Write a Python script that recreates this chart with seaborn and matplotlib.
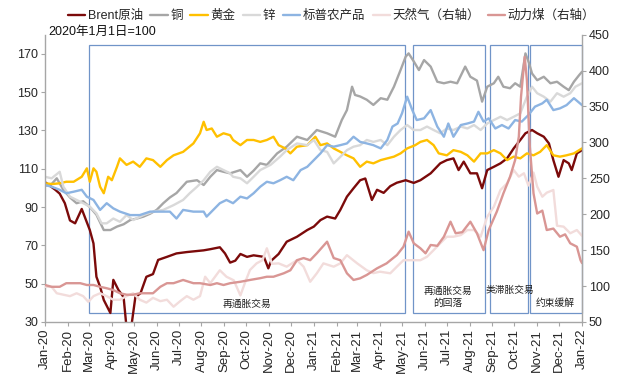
import numpy as np
import pandas as pd
import matplotlib
matplotlib.use("Agg")
import matplotlib.pyplot as plt
import matplotlib.dates as mdates
from matplotlib.patches import Rectangle
from matplotlib.lines import Line2D
import seaborn as sns

# ---------------- data (day offset from 2020-01-01, index value) ----------------
brent = [(0,103),(7,101),(14,99),(20,97),(27,92),(34,83),(41,81.5),(50,89),(54,85),(61,78),(66,71),
         (70,53.6),(75,48.4),(80,41.5),(89,34.7),(93,52),(100,46.7),(107,43),(111,27),(118,29),(123,43),
         (130,45),(138,53.6),(147,55),(154,62.4),(166,64),(179,65.8),(193,66.5),(216,67.4),(225,68),
         (238,69),(245,65.8),(252,61),(259,62),(266,65.5),(275,64),(284,64.8),(298,64),(304,58),(308,62),
         (318,65.5),(329,71.9),(343,74.5),(357,78),(366,79.8),(375,83.2),(384,85),(395,84),(402,88.5),
         (411,95.4),(420,99.8),(429,104),(436,104.9),(445,93.7),(452,99),(461,97.4),(470,100.9),
         (479,102.7),(491,104),(502,102.6),(511,104),(525,107.6),(538,112.8),(547,114.5),(556,115.4),
         (563,109.3),(570,113.7),(579,107.6),(588,107.6),(595,99.8),(602,109.3),(611,111),(620,112.8),
         (629,115.4),(638,120.6),(647,125),(654,128.5),(663,130.2),(670,128.5),(679,126.7),(686,123.2),
         (692,114.5),(699,105.8),(706,114.5),(713,112.8),(717,109.3),(724,118),(731,119.7)]

copper = [(0,101),(9,102),(16,105),(25,99),(34,95),(43,92),(52,93),(61,90),(70,86),(80,78),(89,78),
          (98,79.8),(107,81),(116,83.2),(125,84),(134,85),(143,86.5),(152,88.5),(161,92),(170,95),
          (179,97.3),(193,103.2),(207,104),(216,101.5),(225,105.8),(234,109.3),(243,108.4),(252,107.6),
          (266,109.3),(275,105.8),(284,109),(293,112.8),(302,112),(316,118),(329,121.5),(343,126.7),
          (357,125),(370,130.2),(384,128.5),(395,126.7),(404,135.4),(411,140.6),(418,152.8),(422,148.5),
          (429,147.7),(438,146),(447,143.3),(457,146.8),(466,146),(475,152.8),(484,161.5),(491,168.5),
          (495,170.2),(502,166),(509,161.5),(516,166.7),(525,163.3),(534,155.4),(543,154.6),(552,155.4),
          (561,154.6),(572,163.3),(579,158),(588,156),(595,145),(602,152.8),(611,154.6),(617,158),
          (624,152.8),(633,152),(640,154.6),(647,152.8),(654,170.2),(659,165),(663,159.7),(670,156.2),
          (679,158),(688,154.6),(697,155.4),(706,152.8),(713,151),(720,155.4),(727,158.8),(731,160.6)]

gold = [(0,102.4),(10,102),(20,102.4),(29,103.2),(39,103.2),(50,105.8),(57,110.2),(61,103.2),(66,110.2),
        (70,108.4),(75,100.6),(80,97.2),(86,105.8),(91,104),(98,111),(102,115.4),(111,112),(120,113.7),
        (129,111),(138,115.4),(147,114.5),(157,111),(166,114.5),(175,117),(188,118.8),(202,123.2),
        (211,128.5),(216,134.5),(220,130.2),(227,131),(234,126.7),(243,128.5),(252,127.5),(256,125),
        (266,122.3),(275,125),(284,125),(293,124),(302,125),(311,126.7),(318,122.3),(327,120.6),(334,118),
        (343,121.5),(357,122.3),(368,126.7),(375,122.3),(384,123.2),(393,120.6),(402,118.8),(411,117),
        (420,115.4),(429,111),(438,113.7),(447,112.8),(457,114.5),(466,115.4),(475,116.3),(484,118),
        (493,120.6),(504,122.3),(511,124),(520,125),(529,122.3),(536,118),(547,117),(556,119.7),
        (566,118.8),(575,117),(584,113.7),(593,118),(602,118),(611,119.7),(620,118),(629,114.5),
        (638,116.3),(647,115.4),(656,118),(665,117),(674,118.8),(683,122.3),(692,117),(701,116.3),
        (710,117),(720,118),(731,120.6)]

zinc = [(0,105.8),(9,105),(20,108.4),(25,100.6),(34,95.4),(43,93.7),(52,92),(61,90.2),(70,86.7),
        (77,81.5),(84,81.5),(93,84),(102,82.3),(111,85.8),(120,83.2),(134,85.8),(147,87.6),(161,88.5),
        (175,91),(188,93.7),(197,97.2),(207,100.6),(216,104),(225,108.4),(234,111),(243,109.3),
        (252,107.6),(256,105.8),(266,105),(275,102.4),(284,105.8),(293,109.3),(307,112),(320,116.3),
        (329,119.7),(343,123.2),(357,122.3),(366,125),(375,119.7),(384,118.8),(393,112.8),(400,115.4),
        (411,119.7),(420,121.5),(429,122.3),(438,125),(447,124),(457,125),(466,122.3),(475,126.7),
        (484,130.2),(493,132.8),(502,130.2),(511,130.2),(520,132),(529,130.2),(538,128.5),(547,131),
        (556,130.2),(566,132),(575,131),(584,132.8),(593,130.2),(602,133.6),(611,135.4),(620,137.1),
        (629,135.4),(638,137.1),(647,138.9),(656,147.6),(663,152.8),(670,149.4),(679,147.6),(688,145),
        (697,149.4),(706,147.6),(715,149.4),(722,152.8),(731,154.6)]

agri = [(0,101.5),(9,100.6),(20,99),(29,97.2),(39,98),(50,99),(57,95.4),(66,93.7),(75,88.5),(84,92),
        (93,89.3),(102,87.6),(116,85.8),(129,85.8),(143,87.6),(157,87.6),(170,87.6),(179,84),(188,88.5),
        (202,87.6),(216,87.6),(220,85),(229,88.5),(238,92),(247,93.7),(256,92),(266,95.4),(275,94.5),
        (284,97.2),(293,100.6),(302,103.2),(311,102.4),(320,104),(329,105.8),(338,104),(348,109.3),
        (357,111),(366,114.5),(375,118),(384,122.3),(393,121.5),(402,122.3),(411,123.2),(420,126.7),
        (429,124),(438,123.2),(447,122.3),(457,120.6),(466,125),(473,132),(480,133.6),(486,138.9),
        (493,147.6),(500,140.6),(506,135.4),(516,136.3),(525,140.6),(534,132),(543,126.7),(549,133.6),
        (556,126.7),(566,132.8),(575,133.6),(584,134.6),(590,139.7),(597,134.6),(604,136.3),(613,131),
        (622,132.8),(631,131),(640,135.4),(649,134.6),(658,138),(667,142.4),(677,144.1),(683,146),
        (692,140.6),(701,141.5),(710,143.2),(720,146.8),(731,143.2)]

gas = [(0,99),(9,99),(16,90),(25,88),(34,86),(43,90),(52,86),(59,78),(66,86),(75,90),(84,86),(93,81),
       (102,81),(111,86),(120,90),(129,81),(138,77),(147,83.6),(157,79),(166,81),(175,71.3),(184,79),
       (193,86),(202,81),(211,86),(218,113),(225,104),(238,122),(247,113),(257,108),(266,87),
       (272,104),(279,122.4),(288,131.6),(296,136),(302,152.6),(309,131),(318,131.6),
       (329,127),(343,136),(352,127),(361,106),(370,117.8),(379,131.6),(393,127),
       (402,131.6),(411,143),(425,131.6),(438,122),(447,118),(456,120),(470,117.8),
       (479,127),(488,136),(502,136),(511,136),(520,140.8),(529,150),(538,159.5),(547,168.7),
       (556,168.7),(566,171),(575,178),(584,178),(593,168.7),(602,196.5),(611,210.4),(620,233.7),
       (629,243),(638,261.5),(645,252.3),(652,257),(658,240),(665,258),(670,238.4),(677,224.4),
       (683,230),(692,233.7),(697,184),(706,182.7),(715,173.5),(724,178),(731,170)]

coal = [(0,101.5),(9,99),(20,99),(29,104),(39,104),(48,104),(57,101.5),(66,101.5),(75,99),(84,97),
        (93,94.5),(102,90),(111,88),(120,88),(129,90),(138,90),(147,90),(157,99),(166,104),(175,104),
        (188,108.5),(202,104),(211,104),(225,101.5),(234,104),(243,101.5),(252,104),(266,106),
        (279,108.5),(293,111),(302,113),(311,113),(325,117.8),(334,122),
        (343,136),(352,139),(361,136),(370,145.6),(384,161.8),(393,139),(402,136),(411,117.8),
        (420,108.5),(429,110.8),(438,115.5),(452,124.7),(465,131.6),(479,143.2),(488,154.8),
        (495,175.7),(502,159.5),(511,152.6),(518,145.6),(525,157.2),(534,156),(543,168.7),
        (552,189.6),(559,173.5),(568,175),(579,189.6),(588,173.5),(597,150),(604,178),(615,203.5),
        (624,229),(633,252),(640,275.5),(645,308),(648,363.6),(653,419),(656,386.5),(660,294),
        (665,229),(670,201),(677,205),(683,178),(692,180),(701,168.7),(708,172),(715,159.5),
        (724,154.8),(729,136),(731,132)]

series_names = ["Brent原油", "铜", "黄金", "锌", "标普农产品", "天然气（右轴）", "动力煤（右轴）"]
series_data = [brent, copper, gold, zinc, agri, gas, coal]
series_axis = ["left", "left", "left", "left", "left", "right", "right"]
series_colors = ["#7b0a0a", "#a6a6a6", "#ffc000", "#d9d9d9", "#8db4e2", "#f2dcdb", "#d99694"]

phase_labels = ["再通胀交易", "再通胀交易\n的回落", "类滞胀交易", "约束缓解"]
phase_start = ["2020-03-01", "2021-05-16", "2021-08-29", "2021-10-22"]
phase_end = ["2021-05-05", "2021-08-22", "2021-10-19", "2022-01-01"]

left_ticks = [30, 50, 70, 90, 110, 130, 150, 170]
right_ticks = [50, 100, 150, 200, 250, 300, 350, 400, 450]

# ---------------- style ----------------
sns.set_theme(style="white")
plt.rcParams["font.family"] = ["Liberation Sans", "Noto Sans CJK SC", "DejaVu Sans"]

start = pd.Timestamp("2020-01-01")

def frame(pairs):
    df = pd.DataFrame(pairs, columns=["day", "value"])
    df["date"] = start + pd.to_timedelta(df["day"], unit="D")
    return df

fig = plt.figure(figsize=(6.22, 3.79), dpi=100)
ax = fig.add_axes([45 / 622, 57 / 379, 537 / 622, 287.4 / 379])
ax2 = ax.twinx()

handles = []
for name, data, side, col in zip(series_names, series_data, series_axis, series_colors):
    target = ax if side == "left" else ax2
    df = frame(data)
    sns.lineplot(data=df, x="date", y="value", ax=target, color=col, linewidth=1.7,
                 legend=False, estimator=None, sort=False)
    handles.append(Line2D([0], [0], color=col, linewidth=1.7))

ax.set_xlim(start, pd.Timestamp("2022-01-01"))
ax.set_ylim(30, 180)
ax2.set_ylim(50, 450)
ax.set_yticks(left_ticks)
ax2.set_yticks(right_ticks)
ax.set_xlabel("")
ax.set_ylabel("")
ax2.set_ylabel("")
ax.xaxis.set_major_locator(mdates.MonthLocator())
ax.xaxis.set_major_formatter(mdates.DateFormatter("%b-%y"))
for lab in ax.get_xticklabels():
    lab.set_rotation(90)

spine_col = "#a6a6a6"
for a in (ax, ax2):
    a.spines["top"].set_visible(False)
    for s in ("left", "right", "bottom"):
        a.spines[s].set_color(spine_col)
        a.spines[s].set_linewidth(1.0)
ax.spines["right"].set_visible(False)
ax2.spines["left"].set_visible(False)
ax2.spines["bottom"].set_visible(False)
ax.tick_params(axis="y", direction="out", length=3, width=0.8, color=spine_col,
               labelsize=9, pad=2, left=True)
ax.tick_params(axis="x", direction="out", length=3, width=0.8, color=spine_col,
               labelsize=9.5, pad=2, bottom=True)
ax2.tick_params(axis="y", direction="out", length=3, width=0.8, color=spine_col,
                labelsize=9, pad=2, right=True)
ax.grid(False)
ax2.grid(False)

# phase boxes
box_col = "#7094c8"
for s, e in zip(phase_start, phase_end):
    x0 = mdates.date2num(pd.Timestamp(s))
    x1 = mdates.date2num(pd.Timestamp(e))
    ax.add_patch(Rectangle((x0, 34.7), x1 - x0, 174.6 - 34.7, fill=False,
                           edgecolor=box_col, linewidth=0.9, zorder=1, clip_on=False))

label_pos = [(0.376, 0.063), (0.7505, 0.088), (0.866, 0.111), (0.951, 0.067)]
for txt, (px, py) in zip(phase_labels, label_pos):
    ax2.text(px, py, txt, transform=ax.transAxes, ha="center", va="center",
             fontsize=7, color="#222222", linespacing=1.3, zorder=5)

fig.text(48 / 622, 1 - 32 / 379, "2020年1月1日=100", ha="left", va="center",
         fontsize=9, color="#111111")

fig.legend(handles, series_names, loc="center", bbox_to_anchor=(0.533, 1 - 16 / 379),
           ncol=7, frameon=False, fontsize=9, handlelength=1.4, handletextpad=0.2,
           columnspacing=0.6, borderaxespad=0)

fig.savefig("out.png", dpi=100)
